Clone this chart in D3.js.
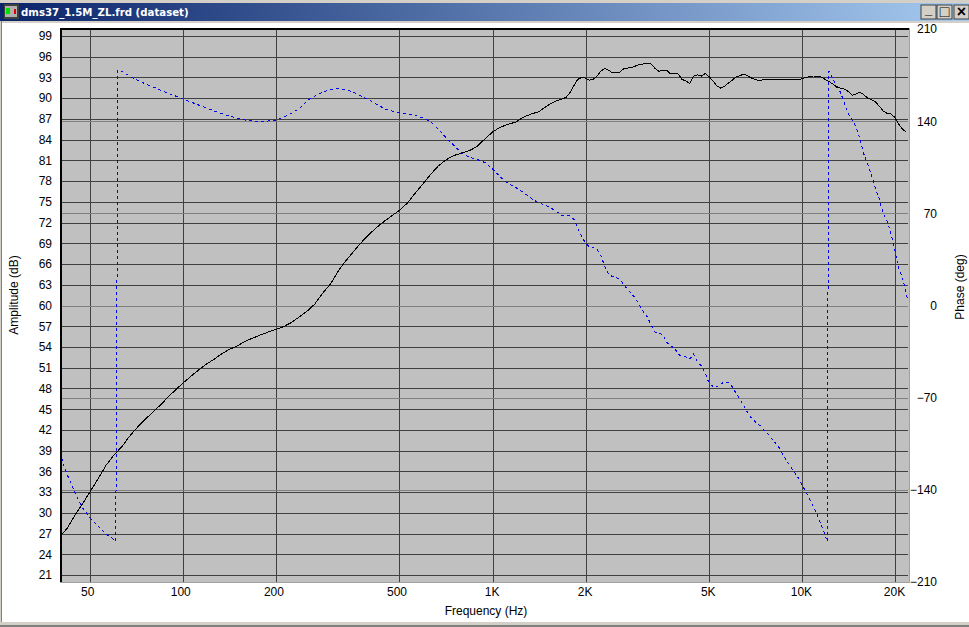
<!DOCTYPE html>
<html><head><meta charset="utf-8">
<script src="https://cdn.jsdelivr.net/npm/d3@7/dist/d3.min.js"></script>
<style>
html,body{margin:0;padding:0;background:#fff;overflow:hidden}
svg{display:block}
text{font-family:"Liberation Sans",Arial,sans-serif;font-size:12px;fill:#000}
</style></head><body><svg id="c" width="969" height="627"></svg>
<script>
const titleText = "dms37_1.5M_ZL.frd (dataset)";
const xTickValues = [50,100,200,500,1000,2000,5000,10000,20000];
const xTickLabels = ["50","100","200","500","1K","2K","5K","10K","20K"];
const ampTicks = [21,24,27,30,33,36,39,42,45,48,51,54,57,60,63,66,69,72,75,78,81,84,87,90,93,96,99];
const phaseTicks = [-210,-140,-70,0,70,140,210];
const ampFreq = [40,42.2,44.7,47.3,50.1,53.1,56.2,59.6,63.1,66.8,70.8,75,79.4,84.1,89.1,94.4,
100,106,112,119,126,133,141,150,158,168,178,188,200,211,224,237,251,266,282,299,316,335,355,376,398,422,447,473,501,531,562,596,631,668,708,750,794,841,891,944,
1000,1059,1122,1189,1259,1334,1413,1496,1585,1679,
1728,1778,1830,1884,1939,1995,2054,2113,2175,2239,2304,2371,2441,2512,2586,2661,2738,2818,2901,2985,
3073,3162,3255,3350,3447,3548,3652,3758,3868,3981,4097,4217,4340,4467,4597,4732,4870,5012,5158,5309,
5464,5623,5788,5957,6131,6310,6494,6683,6879,7079,7286,7499,7718,7943,8175,8414,8660,8913,9173,9441,
9716,10000,10292,10593,10902,11220,11548,11885,12232,12589,12957,13335,13725,14125,14538,14962,15399,15849,16312,16788,
17278,17783,18302,18836,19387,19953,20535,21135,21752];
const ampDb = [26.65,27.8,29.7,31.35,33.15,34.95,36.85,38.35,39.5,41,42.3,43.45,44.5,45.55,46.7,47.8,
48.8,49.8,50.65,51.55,52.25,53,53.65,54.2,54.8,55.3,55.75,56.15,56.55,56.95,57.55,58.35,59.15,60.2,61.75,63.1,64.9,66.45,67.8,69.1,70.25,71.3,72.2,73,73.8,74.85,76.25,77.6,79,80.2,81.1,81.7,82.05,82.4,83,84.1,
85.1,85.8,86.2,86.55,87.25,87.7,88.05,88.85,89.5,89.9,
90.1,90.8,91.75,92.7,93,92.9,92.6,92.7,93.2,93.9,94.3,94.05,93.65,93.65,93.8,94.3,94.35,94.45,94.65,94.85,
94.95,95,94.95,94.3,93.9,94,94.05,93.5,93.55,93.5,92.7,92.5,92.1,93.2,93.35,93.2,93.55,93.1,92.5,91.75,
91.45,91.7,92.2,92.6,93.1,93.25,93.5,93.2,92.9,92.7,92.5,92.7,92.7,92.7,92.75,92.75,92.7,92.75,92.75,92.75,
92.7,92.8,93,93.1,93.2,93.2,93.05,92.7,92.4,92.05,91.6,91.45,91.3,90.95,90.4,90.6,90.85,90.5,90,89.8,
89.45,88.85,88.15,87.8,87.7,87.25,86.25,85.55,85.05];
const phaseFreq = [40,41,42.2,44.7,47.3,50.1,53.1,56.2,59.6,60.5,61.5,63.1,66.8,70.8,75,79.4,84.1,89.1,94.4,
100,106,112,119,126,133,141,150,158,168,178,188,200,211,224,237,251,266,282,299,316,335,355,376,398,422,447,473,501,531,562,596,631,668,708,750,794,841,891,944,
1000,1059,1122,1189,1259,1334,1413,1496,1585,1679,
1728,1778,1830,1884,1939,1995,2054,2113,2175,2239,2304,2371,2441,2512,2586,2661,2738,2818,2901,2985,
3073,3162,3255,3350,3447,3548,3652,3758,3868,3981,4097,4217,4340,4467,4597,4732,4870,5012,5158,5309,
5464,5623,5788,5957,6131,6310,6494,6683,6879,7079,7286,7499,7718,7943,8175,8414,8660,8913,9173,9441,
9716,10000,10292,10593,10902,11220,11548,11885,12060,12220,12589,12957,13335,13725,14125,14538,14962,15399,15849,16312,16788,
17278,17783,18302,18836,19387,19953,20535,21135,21752,22000];
const phaseDeg = [-111.3,-121.1,-128.7,-142.4,-153.8,-161.8,-167.8,-173.5,-177.7,-178.9,179.2,177.9,174.45,171.3,168.6,166.2,163.7,161.4,159.1,
156.8,154.5,152.3,150,147.7,145.8,143.9,142.2,140.9,140.1,139.9,140.1,140.9,143.2,146,149.6,155.3,159.1,162.1,164,164.7,163.9,162.1,159.1,156.1,152.7,149.5,147.7,146.4,145.4,144.3,142.4,139.4,134,127.2,121.5,116,112.6,110.9,108.6,
103.7,97.6,92.7,89.6,85.8,81.3,77.8,75.8,72.5,68.4,
68,68,65.7,58.9,52.8,47.5,44.6,44,42.5,37.6,30,23.5,22,21.3,19.4,15.6,11.8,8.7,5.3,0.4,
-4.6,-8.7,-14.8,-20.1,-21.1,-22,-27.7,-31.1,-31.9,-37.2,-38.4,-39.1,-40.6,-36.8,-42.9,-45.9,-51.3,-59.2,-61.5,-61.9,
-59.6,-58.1,-58.5,-61.9,-66.8,-71.4,-76.3,-81.6,-85.8,-88.5,-90.8,-93.8,-96.8,-100.6,-104,-107.5,-112.8,-117.7,-121.9,-126.5,
-130.6,-136.3,-141.3,-147,-153,-159.1,-166.7,-173.9,-179.2,178.1,172,167.1,161.8,153.4,145.8,140.5,135.9,126.8,115.1,107.5,99.1,
88.9,80.9,69.9,64.6,55.1,42.2,28.5,21.6,8.7,4.2];

const svg = d3.select("#c");
const L = 60.2, R = 908, T = 29, B = 582;
const x = d3.scaleLog().domain([40,22030]).range([L,R]);
const yA = d3.scaleLinear().domain([20,100]).range([B,T]);
const yP = d3.scaleLinear().domain([-210,210]).range([B,T]);

// window chrome
const defs = svg.append("defs");
const g = defs.append("linearGradient").attr("id","tb");
g.append("stop").attr("offset","0").attr("stop-color","#0a246a");
g.append("stop").attr("offset","1").attr("stop-color","#a6caf0");
svg.append("rect").attr("width",969).attr("height",627).attr("fill","#fff");
svg.append("rect").attr("width",969).attr("height",3).attr("fill","#d4d0c8");
svg.append("rect").attr("y",3).attr("width",969).attr("height",18).attr("fill","url(#tb)");
svg.append("rect").attr("y",21).attr("width",969).attr("height",2).attr("fill","#d4d0c8");
svg.append("rect").attr("x",0).attr("y",21).attr("width",1).attr("height",606).attr("fill","#d4d0c8");
svg.append("rect").attr("x",1).attr("y",21).attr("width",1).attr("height",603).attr("fill","#808080");
svg.append("rect").attr("y",622).attr("width",969).attr("height",3).attr("fill","#d4d0c8");
svg.append("rect").attr("y",625).attr("width",969).attr("height",2).attr("fill","#808080");
// icon
svg.append("rect").attr("x",4).attr("y",4).attr("width",15).attr("height",15).attr("fill","#404040");
svg.append("rect").attr("x",5).attr("y",6).attr("width",12).attr("height",11).attr("fill","#b0b0b0");
svg.append("rect").attr("x",6).attr("y",8).attr("width",4).attr("height",6).attr("fill","#00e000");
svg.append("rect").attr("x",14).attr("y",9).attr("width",2).attr("height",5).attr("fill","#e00000");
svg.append("text").attr("x",21).attr("y",16).text(titleText)
  .style("font-family","'DejaVu Sans',sans-serif").style("font-weight","bold").style("font-size","10.2px").style("fill","#fff");
// window buttons
[[921,"_"],[937,"□"],[954,"×"]].forEach(([bx,s])=>{
  svg.append("rect").attr("x",bx).attr("y",5).attr("width",15).attr("height",14).attr("fill","#d4d0c8").attr("stroke","#404040").attr("stroke-width",1);
  svg.append("text").attr("x",bx+7.5).attr("y",bx===921?14:17).attr("text-anchor","middle").text(s)
    .style("font-weight","bold").style("font-size",bx===921?"13px":"16px");
});

// plot background
svg.append("rect").attr("x",L).attr("y",T-1).attr("width",R-L+1).attr("height",B-T+1).attr("fill","#c0c0c0");

// grid through axes
const gridLayer = svg.append("g").attr("shape-rendering","crispEdges");
const gA = gridLayer.append("g").attr("transform",`translate(${L},0)`)
  .call(d3.axisLeft(yA).tickValues(ampTicks).tickSize(-(R-L)).tickFormat(""));
gA.select(".domain").remove();
gA.selectAll("line").attr("stroke","#404040");
const gX = gridLayer.append("g").attr("transform",`translate(0,${B})`)
  .call(d3.axisBottom(x).tickValues(xTickValues).tickSize(-(B-T-1)).tickFormat(""));
gX.select(".domain").remove();
gX.selectAll("line").attr("stroke","#404040");
const gP = gridLayer.append("g").attr("transform",`translate(${L},0)`)
  .call(d3.axisLeft(yP).tickValues(phaseTicks.filter(d=>Math.abs(d)<210)).tickSize(-(R-L)).tickFormat(""));
gP.select(".domain").remove();
gP.selectAll("line").attr("stroke","#808080");

// curves (aliased like the original)
const lineP = d3.line().x((d,i)=>x(phaseFreq[i])).y(d=>yP(d));
const lineA = d3.line().x((d,i)=>x(ampFreq[i])).y(d=>yA(d));
svg.append("path").attr("d",lineP(phaseDeg)).attr("fill","none").attr("stroke","#0000ff")
  .attr("stroke-width",1).attr("stroke-dasharray","3,3").attr("shape-rendering","crispEdges");
svg.append("path").attr("d",lineA(ampDb)).attr("fill","none").attr("stroke","#000")
  .attr("stroke-width",1).attr("shape-rendering","crispEdges");

// plot border
const bd = svg.append("g").attr("shape-rendering","crispEdges");
bd.append("rect").attr("x",60).attr("y",28).attr("width",849).attr("height",2).attr("fill","#000");
bd.append("rect").attr("x",60).attr("y",28).attr("width",2).attr("height",554).attr("fill","#000");
bd.append("rect").attr("x",60).attr("y",582).attr("width",850).attr("height",1).attr("fill","#a0a0a0");
bd.append("rect").attr("x",909).attr("y",28).attr("width",1).attr("height",555).attr("fill","#a0a0a0");

// tick labels
const aL = svg.append("g").attr("transform","translate(52,0)")
  .call(d3.axisLeft(yA).tickValues(ampTicks).tickSize(0).tickPadding(0).tickFormat(d3.format("d")));
aL.select(".domain").remove();
const pL = svg.append("g").attr("transform","translate(937,0)")
  .call(d3.axisRight(yP).tickValues(phaseTicks).tickSize(0).tickPadding(0).tickFormat(d3.format("d")));
pL.select(".domain").remove();
pL.selectAll("text").attr("text-anchor","end");
const xL = svg.append("g").attr("transform","translate(0,587)")
  .call(d3.axisBottom(x).tickValues(xTickValues).tickSize(0).tickPadding(0).tickFormat((d,i)=>xTickLabels[i]));
xL.select(".domain").remove();
xL.selectAll("text").attr("dx",(d)=>d<1000?-3:-1);
svg.selectAll("g.tick text").style("font-size","12px").style("font-family",'"Liberation Sans",Arial,sans-serif').style("fill","#000");

// axis titles
svg.append("text").attr("x",486).attr("y",615).attr("text-anchor","middle").text("Frequency (Hz)");
svg.append("text").attr("transform","translate(18,295) rotate(-90)").attr("text-anchor","middle").text("Amplitude (dB)");
svg.append("text").attr("transform","translate(964,287) rotate(-90)").attr("text-anchor","middle").text("Phase (deg)");
</script></body></html>
